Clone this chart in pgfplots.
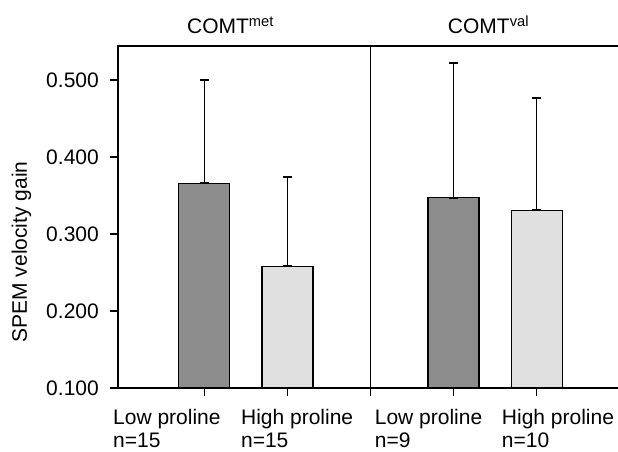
\documentclass[border=0pt]{standalone}
\usepackage{fontspec}
\setmainfont{Liberation Sans}
\usepackage{pgfplots}
\pgfplotsset{compat=1.18}
\definecolor{darkbar}{RGB}{140,140,140}
\definecolor{lightbar}{RGB}{224,224,224}
\newcommand{\lblfont}{\fontsize{21}{23}\selectfont}
\pgfplotsset{
  gainbar/.style={
    ybar, bar shift=0pt, bar width=51pt, draw=black, line width=1.2pt,
    error bars/y dir=both, error bars/y explicit,
    error bars/error bar style={line width=1pt, black},
    error bars/error mark options={mark size=4.5pt, line width=1.8pt, black, rotate=90},
  },
}
\begin{document}
\begin{tikzpicture}
\useasboundingbox (-118pt,-63pt) rectangle (500pt,388pt);
\begin{axis}[
  at={(0,0)}, anchor=south west,
  scale only axis,
  width=503pt, height=342pt,
  xmin=-0.04, xmax=6.016,
  ymin=0.1, ymax=0.5442,
  xtick=\empty,
  ytick={0.1,0.2,0.3,0.4,0.5},
  ytick pos=left,
  major tick length=0pt,
  axis line style={draw=none},
  /pgf/number format/assume math mode=true,
  yticklabel style={/pgf/number format/fixed, /pgf/number format/fixed zerofill,
    /pgf/number format/precision=3, anchor=east, inner sep=0pt, xshift=-19pt},
  ticklabel style={font=\lblfont},
  clip mode=individual,
]
% COMT met
\addplot[gainbar, fill=darkbar] coordinates {(1,0.366) += (0,0.134) -= (0,0)};
\addplot[gainbar, fill=lightbar] coordinates {(2,0.258) += (0,0.116) -= (0,0)};
% COMT val
\addplot[gainbar, fill=darkbar] coordinates {(4,0.347) += (0,0.175) -= (0,0)};
\addplot[gainbar, fill=lightbar] coordinates {(5,0.331) += (0,0.146) -= (0,0)};

% frame (left, top, bottom) and outside ticks, 8pt long
\draw[line width=1.8pt, line cap=rect] (rel axis cs:1,1) -- (rel axis cs:0,1) -- (rel axis cs:0,0) -- (rel axis cs:1,0);
\pgfplotsinvokeforeach{0.1,0.2,0.3,0.4,0.5}{
  \draw[line width=1.5pt] (axis cs:-0.04,#1) -- (axis cs:-0.1363,#1);
}
\pgfplotsinvokeforeach{1,2,3,4,5}{
  \draw[line width=1.5pt] (axis cs:#1,0.1) -- (axis cs:#1,0.0896);
}
% divider between the two genotype panels
\draw[line width=1.4pt] (axis cs:3,0.1) -- (axis cs:3,0.5442);

\coordinate (t1) at (axis cs:0.79,0.5442);
\coordinate (t2) at (axis cs:3.93,0.5442);
\coordinate (c1) at (axis cs:-0.10,0.1);
\coordinate (c2) at (axis cs:1.44,0.1);
\coordinate (c3) at (axis cs:3.05,0.1);
\coordinate (c4) at (axis cs:4.58,0.1);
\end{axis}
\begin{scope}[every node/.style={inner sep=0pt, font=\lblfont}]
\node[anchor=base west, yshift=12pt] at (t1) {COMT\textsuperscript{met}};
\node[anchor=base west, yshift=12pt] at (t2) {COMT\textsuperscript{val}};
\node[anchor=north west, align=left, yshift=-21pt] at (c1) {Low proline\\n=15};
\node[anchor=north west, align=left, yshift=-21pt] at (c2) {High proline\\n=15};
\node[anchor=north west, align=left, yshift=-21pt] at (c3) {Low proline\\n=9};
\node[anchor=north west, align=left, yshift=-21pt] at (c4) {High proline\\n=10};
\end{scope}
\node[rotate=90, anchor=base, font=\lblfont] at (-91pt,136pt) {SPEM velocity gain};
\end{tikzpicture}
\end{document}
